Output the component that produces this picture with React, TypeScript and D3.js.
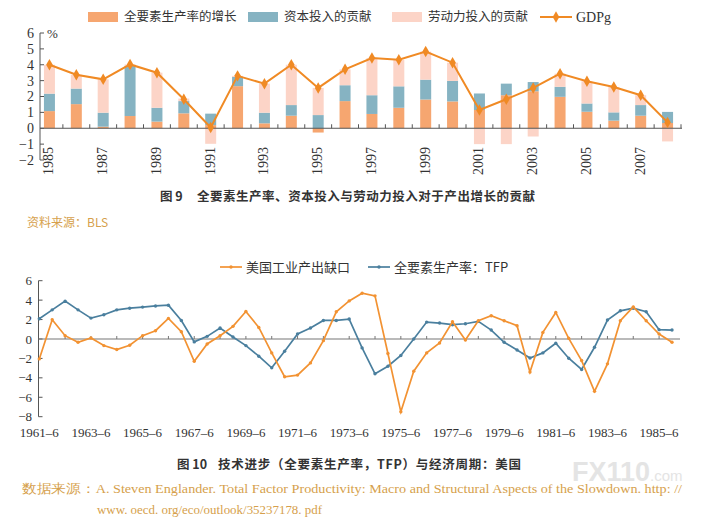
import React, { useEffect, useRef } from 'react';
import * as d3 from 'd3';

// Figure 9: contributions to output growth (%)
const years = [
  '1985', '1986', '1987', '1988', '1989', '1990', '1991', '1992', '1993', '1994', '1995', '1996',
  '1997', '1998', '1999', '2000', '2001', '2002', '2003', '2004', '2005', '2006', '2007', '2008',
];
const yearLabels = ['1985', '1987', '1989', '1991', '1993', '1995', '1997', '1999', '2001', '2003', '2005', '2007'];
const tfpGrowth = [1.08, 1.52, 0.1, 0.77, 0.42, 0.94, 0.2, 2.65, 0.31, 0.79, -0.27, 1.71, 0.9, 1.29, 1.81, 1.69, 1.15, 2.08, 2.33, 1.98, 1.04, 0.48, 0.79, 0.33];
const capitalContrib = [1.1, 0.98, 0.88, 3.15, 0.87, 0.77, 0.72, 0.58, 0.67, 0.67, 0.83, 1.0, 1.18, 1.35, 1.25, 1.29, 1.04, 0.73, 0.58, 0.63, 0.52, 0.52, 0.67, 0.7];
const laborContrib = [1.82, 0.87, 2.1, 0.1, 2.21, 0.16, -0.98, 0.07, 1.83, 2.54, 1.71, 1.0, 2.34, 1.67, 1.77, 1.15, -1.0, -1.0, -0.52, 0.83, 1.4, 1.6, 0.62, -0.83];
const gdpGrowth = [4.0, 3.37, 3.08, 4.02, 3.5, 1.83, 0.05, 3.3, 2.81, 4.0, 2.54, 3.71, 4.42, 4.31, 4.83, 4.13, 1.15, 1.83, 2.54, 3.44, 2.96, 2.6, 2.08, 0.37];
const topTicks = [-2, -1, 0, 1, 2, 3, 4, 5, 6];

// Figure 10: output gap vs TFP, half-yearly
const periods = [
  '1961–6', '1961–12', '1962–6', '1962–12', '1963–6', '1963–12', '1964–6', '1964–12', '1965–6', '1965–12',
  '1966–6', '1966–12', '1967–6', '1967–12', '1968–6', '1968–12', '1969–6', '1969–12', '1970–6', '1970–12',
  '1971–6', '1971–12', '1972–6', '1972–12', '1973–6', '1973–12', '1974–6', '1974–12', '1975–6', '1975–12',
  '1976–6', '1976–12', '1977–6', '1977–12', '1978–6', '1978–12', '1979–6', '1979–12', '1980–6', '1980–12',
  '1981–6', '1981–12', '1982–6', '1982–12', '1983–6', '1983–12', '1984–6', '1984–12', '1985–6', '1985–12',
];
const periodLabels = ['1961–6', '1963–6', '1965–6', '1967–6', '1969–6', '1971–6', '1973–6', '1975–6', '1977–6', '1979–6', '1981–6', '1983–6', '1985–6'];
const outputGap = [
  -2.05, 1.98, 0.34, -0.34, 0.1, -0.68, -1.09, -0.65, 0.34, 0.85, 2.12, 0.75, -2.29, -0.51, 0.34,
  1.3, 2.83, 1.19, -1.43, -3.89, -3.72, -2.46, -0.17, 2.8, 3.92, 4.71, 4.44, -1.5, -7.5, -3.31, -1.43, -0.41, 1.77, -0.1,
  1.88, 2.39, 1.88, 1.37, -3.41, 0.68, 2.73, 0.07, -2.22, -5.39, -2.56, 1.88, 3.31, 1.88, 0.51, -0.34,
];
const tfpSeries = [
  2.08, 3.0, 3.9, 3.0, 2.15, 2.5, 3.0, 3.17, 3.28, 3.4, 3.48, 1.9, -0.3, 0.27, 1.13,
  0.2, -0.68, -1.77, -2.97, -1.26, 0.51, 1.13, 1.91, 1.91, 2.05, -0.92, -3.58, -2.8, -1.7, 0.0, 1.74, 1.64, 1.47, 1.57,
  1.81, 0.92, -0.34, -1.13, -1.95, -1.43, -0.44, -1.98, -3.14, -0.85, 1.95, 2.9, 3.17, 2.8, 0.96, 0.92,
];
const bottomTicks = [-8, -6, -4, -2, 0, 2, 4, 6];

const C = {
  tfp: '#f6a670',
  capital: '#86b3c2',
  labor: '#fcd4c7',
  gdp: '#f08a24',
  gap: '#f29232',
  tfpLine: '#4a7f9e',
  axis: '#555',
  text: '#333',
  gold: '#d69f4c',
};
const NUM_FONT = '"Liberation Serif", "DejaVu Serif", serif';
const CJK_FONT = '"Noto Sans CJK SC", "Noto Sans", sans-serif';
const fmt = (v: number) => (v < 0 ? `−${Math.abs(v)}` : `${v}`);

const App: React.FC = () => {
  const svgRef = useRef<SVGSVGElement>(null);

  useEffect(() => {
    const svg = d3.select(svgRef.current);
    svg.selectAll('*').remove();

    // ---------- top chart ----------
    const xTop = d3.scaleBand<string>().domain(years).range([36, 681]);
    const yTop = d3.scaleLinear().domain([-2, 6]).range([160, 33]);
    const barW = 11;
    const cx = (y: string) => xTop(y)! + xTop.bandwidth() / 2;

    const rows = years.map((y, i) => ({ year: y, tfp: tfpGrowth[i], capital: capitalContrib[i], labor: laborContrib[i] }));
    const stack = d3.stack<any>().keys(['tfp', 'capital', 'labor']).offset(d3.stackOffsetDiverging);
    const layers = stack(rows);
    const colorOf: Record<string, string> = { tfp: C.tfp, capital: C.capital, labor: C.labor };

    const top = svg.append('g');
    layers.forEach(layer => {
      top.append('g')
        .selectAll('rect')
        .data(layer)
        .enter().append('rect')
        .attr('x', d => cx(d.data.year) - barW / 2)
        .attr('y', d => yTop(Math.max(d[0], d[1])))
        .attr('width', barW)
        .attr('height', d => Math.abs(yTop(d[0]) - yTop(d[1])))
        .attr('fill', colorOf[layer.key]);
    });

    // y axis
    top.append('line').attr('x1', 40).attr('x2', 40).attr('y1', yTop(6)).attr('y2', yTop(-2))
      .attr('stroke', C.axis).attr('stroke-width', 1);
    topTicks.forEach(t => {
      top.append('line').attr('x1', 40).attr('x2', 44).attr('y1', yTop(t)).attr('y2', yTop(t))
        .attr('stroke', C.axis);
      top.append('text').attr('x', 34).attr('y', yTop(t)).attr('dy', '0.35em')
        .attr('text-anchor', 'end').attr('font-family', NUM_FONT).attr('font-size', 14)
        .attr('fill', C.text).text(fmt(t));
    });
    top.append('text').attr('x', 47).attr('y', yTop(6) + 5).attr('font-family', NUM_FONT)
      .attr('font-size', 13).attr('fill', C.text).text('%');

    // x axis at zero
    top.append('line').attr('x1', 40).attr('x2', 682).attr('y1', yTop(0)).attr('y2', yTop(0))
      .attr('stroke', C.axis).attr('stroke-width', 1.2);
    years.slice(1).concat(['end']).forEach(y => {
      const x = y === 'end' ? 681 : xTop(y)!;
      top.append('line').attr('x1', x).attr('x2', x).attr('y1', yTop(0)).attr('y2', yTop(0) - 4)
        .attr('stroke', C.axis);
    });
    yearLabels.forEach(y => {
      top.append('text')
        .attr('transform', `translate(${cx(y) + 4},${147}) rotate(-90)`)
        .attr('text-anchor', 'end').attr('font-family', NUM_FONT).attr('font-size', 14)
        .attr('fill', C.text).text(y);
    });

    // GDP line
    const gdpLine = d3.line<number>().x((_d, i) => cx(years[i])).y(d => yTop(d));
    top.append('path').datum(gdpGrowth).attr('d', gdpLine).attr('fill', 'none')
      .attr('stroke', C.gdp).attr('stroke-width', 2);
    const diamond = d3.symbol().type(d3.symbolDiamond).size(38);
    top.append('g').selectAll('path').data(gdpGrowth).enter().append('path')
      .attr('d', diamond)
      .attr('transform', (d, i) => `translate(${cx(years[i])},${yTop(d)})`)
      .attr('fill', C.gdp);

    // top legend
    const lg = svg.append('g').attr('font-family', CJK_FONT).attr('font-size', 12.5).attr('fill', C.text);
    const legendItems = [
      { x: 88, color: C.tfp, label: '全要素生产率的增长' },
      { x: 248, color: C.capital, label: '资本投入的贡献' },
      { x: 392, color: C.labor, label: '劳动力投入的贡献' },
    ];
    legendItems.forEach(it => {
      lg.append('rect').attr('x', it.x).attr('y', 12).attr('width', 30).attr('height', 10).attr('fill', it.color);
      lg.append('text').attr('x', it.x + 36).attr('y', 17).attr('dy', '0.35em').text(it.label);
    });
    lg.append('line').attr('x1', 540).attr('x2', 572).attr('y1', 17).attr('y2', 17)
      .attr('stroke', C.gdp).attr('stroke-width', 2);
    lg.append('path').attr('d', diamond).attr('transform', 'translate(556,17)').attr('fill', C.gdp);
    lg.append('text').attr('x', 576).attr('y', 17).attr('dy', '0.35em').attr('font-family', NUM_FONT)
      .attr('font-size', 14).text('GDPg');

    // caption 9 + source
    const cap9 = svg.append('text').attr('y', 201).attr('font-family', CJK_FONT).attr('font-weight', 'bold')
      .attr('font-size', 12.5).attr('fill', C.text);
    cap9.append('tspan').attr('x', 160).text('图 9');
    cap9.append('tspan').attr('x', 197).attr('textLength', 338).text('全要素生产率、资本投入与劳动力投入对于产出增长的贡献');
    svg.append('text').attr('x', 27).attr('y', 227).attr('font-family', CJK_FONT).attr('font-size', 12)
      .attr('fill', C.gold).text('资料来源：BLS');

    // ---------- bottom chart ----------
    const xBot = d3.scalePoint<string>().domain(periods).range([39.3, 672]);
    const yBot = d3.scaleLinear().domain([-8, 6]).range([416.7, 280.7]);
    const bot = svg.append('g');

    bot.append('line').attr('x1', 38.5).attr('x2', 38.5).attr('y1', yBot(6)).attr('y2', yBot(-8))
      .attr('stroke', C.axis);
    bottomTicks.forEach(t => {
      bot.append('line').attr('x1', 38.5).attr('x2', 42.5).attr('y1', yBot(t)).attr('y2', yBot(t))
        .attr('stroke', C.axis);
      bot.append('text').attr('x', 32).attr('y', yBot(t)).attr('dy', '0.35em').attr('text-anchor', 'end')
        .attr('font-family', NUM_FONT).attr('font-size', 13).attr('fill', C.text).text(fmt(t));
    });
    bot.append('line').attr('x1', 38.5).attr('x2', 680).attr('y1', yBot(0)).attr('y2', yBot(0))
      .attr('stroke', '#777').attr('stroke-width', 1.2);
    periods.forEach((p, i) => {
      if (i % 2 !== 0 || i === 0) return;
      bot.append('line').attr('x1', xBot(p)!).attr('x2', xBot(p)!).attr('y1', yBot(0)).attr('y2', yBot(0) - 3)
        .attr('stroke', '#777');
    });
    periodLabels.forEach(p => {
      bot.append('text').attr('x', xBot(p)!).attr('y', 437).attr('text-anchor', 'middle')
        .attr('font-family', NUM_FONT).attr('font-size', 13).attr('fill', C.text).text(p);
    });

    const series = [
      { values: tfpSeries, color: C.tfpLine },
      { values: outputGap, color: C.gap },
    ];
    series.forEach(s => {
      const line = d3.line<number>().x((_d, i) => xBot(periods[i])!).y(d => yBot(d));
      bot.append('path').datum(s.values).attr('d', line).attr('fill', 'none')
        .attr('stroke', s.color).attr('stroke-width', 1.7);
      bot.append('g').selectAll('circle').data(s.values).enter().append('circle')
        .attr('cx', (_d, i) => xBot(periods[i])!).attr('cy', d => yBot(d)).attr('r', 1.7)
        .attr('fill', s.color);
    });

    // bottom legend
    const lg2 = svg.append('g').attr('font-family', CJK_FONT).attr('font-size', 13).attr('fill', C.text);
    [
      { x: 220, color: C.gap, label: '美国工业产出缺口' },
      { x: 368, color: C.tfpLine, label: '全要素生产率：TFP' },
    ].forEach(it => {
      lg2.append('line').attr('x1', it.x).attr('x2', it.x + 22).attr('y1', 267).attr('y2', 267)
        .attr('stroke', it.color).attr('stroke-width', 1.7);
      lg2.append('circle').attr('cx', it.x + 11).attr('cy', 267).attr('r', 1.7).attr('fill', it.color);
      lg2.append('text').attr('x', it.x + 26).attr('y', 267).attr('dy', '0.35em').text(it.label);
    });

    // caption 10 + source
    const cap10 = svg.append('text').attr('y', 469).attr('font-family', CJK_FONT).attr('font-weight', 'bold')
      .attr('font-size', 12.5).attr('fill', C.text);
    cap10.append('tspan').attr('x', 177).text('图 10');
    cap10.append('tspan').attr('x', 218).attr('textLength', 303).text('技术进步（全要素生产率，TFP）与经济周期：美国');

    // watermark
    const wm = svg.append('text').attr('x', 572).attr('y', 481).attr('font-family', '"Liberation Sans", sans-serif')
      .attr('fill', '#e4e4e4').attr('font-weight', 'bold');
    wm.append('tspan').attr('font-size', 27).text('FX110');
    wm.append('tspan').attr('font-size', 15).attr('font-weight', 'normal').text('.com');

    svg.append('text').attr('x', 22).attr('y', 493).attr('textLength', 660).attr('lengthAdjust', 'spacingAndGlyphs')
      .attr('font-family', NUM_FONT).attr('font-size', 12.5).attr('fill', C.gold)
      .text('数据来源：A. Steven Englander. Total Factor Productivity: Macro and Structural Aspects of the Slowdown. http: //');
    svg.append('text').attr('x', 97).attr('y', 514).attr('textLength', 225).attr('lengthAdjust', 'spacingAndGlyphs')
      .attr('font-family', NUM_FONT).attr('font-size', 12.5).attr('fill', C.gold)
      .text('www. oecd. org/eco/outlook/35237178. pdf');
  }, []);

  return (
    <svg
      ref={svgRef}
      width={714}
      height={524}
      style={{ position: 'absolute', left: 0, top: 0, background: '#fff' }}
    />
  );
};

export default App;
